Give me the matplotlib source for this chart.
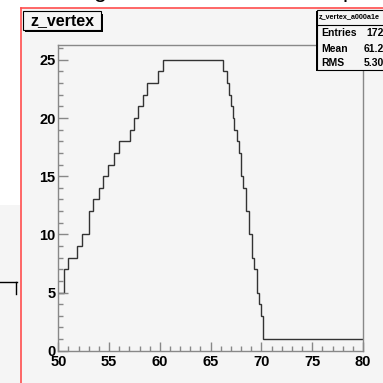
import matplotlib
matplotlib.use("Agg")
import matplotlib.pyplot as plt
from matplotlib.patches import Rectangle
from matplotlib.lines import Line2D
from matplotlib.ticker import MultipleLocator

# histogram steps (edges in cm, counts per step)
edges = [50.0, 50.61, 50.99, 51.87, 52.31, 53.0, 53.39, 54.0, 54.45, 54.93,
         55.52, 55.95, 57.06, 57.49, 57.88, 58.37, 58.74, 59.79, 60.29, 66.26,
         66.65, 66.82, 67.01, 67.18, 67.34, 67.64, 67.80, 67.97, 68.23, 68.46,
         68.82, 69.05, 69.31, 69.55, 69.77, 69.97, 70.2, 80.0]
counts = [5, 7, 8, 9, 10, 12, 13, 14, 15, 16, 17, 18, 19, 20, 21, 22, 23, 24, 25,
          24, 23, 22, 21, 20, 19, 18, 17, 15, 14, 12, 10, 8, 7, 5, 4, 3, 1]

title = "z_vertex"
stats_name = "z_vertex_a000a1e"
stats_rows = ["Entries", "Mean", "RMS"]
stats_vals = ["172", "61.2", "5.30"]

W = H = 383.0
def fx(px):
    return px / W
def fy(py):
    return 1 - py / H

plt.rcParams['font.family'] = ['Liberation Sans', 'DejaVu Sans']
fig = plt.figure(figsize=(3.83, 3.83), dpi=100)
fig.patch.set_facecolor('white')

bg = '#f5f5f5'
# canvas area
fig.patches.append(Rectangle((fx(20.5), 0), 1 - fx(20.5), fy(8.3), transform=fig.transFigure,
                             facecolor=bg, edgecolor='none', zorder=-2))
fig.patches.append(Rectangle((0, 0), fx(20.5), fy(205), transform=fig.transFigure,
                             facecolor=bg, edgecolor='none', zorder=-2))
fig.lines.append(Line2D([fx(20.5), fx(20.5)], [0, fy(8.3)], transform=fig.transFigure,
                        color='#ff4d4d', lw=1.2, zorder=-1))
fig.lines.append(Line2D([fx(20.5), 1], [fy(8.3), fy(8.3)], transform=fig.transFigure,
                        color='#ff4d4d', lw=1.2, zorder=-1))
# bits of the page around the canvas
fig.lines.append(Line2D([0, fx(16.5)], [fy(282), fy(282)], transform=fig.transFigure,
                        color='black', lw=1))
fig.lines.append(Line2D([fx(16), fx(16)], [fy(282), fy(294)], transform=fig.transFigure,
                        color='black', lw=1))
fig.text(fx(40), fy(-3.5), "Histogram  of  the  z  vertex  position  for  the  run", fontsize=17,
         va='baseline', ha='left', color='black', zorder=-1)

ax = fig.add_axes([fx(58.3), fy(350.7), fx(363) - fx(58.3), fy(45.3) - fy(350.7)])
ax.set_zorder(1)
ax.set_facecolor(bg)
ax.stairs(counts, edges, baseline=None, color='#333333', lw=1.0)
ax.set_xlim(50, 80)
ax.set_ylim(0, 26.25)

for s in ax.spines.values():
    s.set_color('#888888')
    s.set_linewidth(1)
ax.xaxis.set_major_locator(MultipleLocator(5))
ax.xaxis.set_minor_locator(MultipleLocator(1))
ax.yaxis.set_major_locator(MultipleLocator(5))
ax.yaxis.set_minor_locator(MultipleLocator(1))
ax.tick_params(axis='x', which='major', direction='in', length=6.8, width=1, color='#888888', pad=3)
ax.tick_params(axis='x', which='minor', direction='in', length=3.4, width=1, color='#888888')
ax.tick_params(axis='y', which='major', direction='in', length=7.2, width=1, color='#888888', pad=2)
ax.tick_params(axis='y', which='minor', direction='in', length=3.6, width=1, color='#888888')
for lab in ax.get_xticklabels() + ax.get_yticklabels():
    lab.set_fontweight('bold')
    lab.set_fontsize(10.5)

# title box with shadow
fig.patches.append(Rectangle((fx(24.5), fy(31.5)), fx(102) - fx(24), fy(12) - fy(30),
                             transform=fig.transFigure, facecolor='black', edgecolor='none', zorder=5))
fig.patches.append(Rectangle((fx(23), fy(30)), fx(101) - fx(23), fy(11) - fy(30),
                             transform=fig.transFigure, facecolor=bg, edgecolor='black', lw=0.8, zorder=6))
fig.text(fx(62), fy(20.5), title, fontsize=11.5, fontweight='bold', ha='center', va='center', zorder=7)

# stats box
fig.patches.append(Rectangle((fx(315.5), fy(71)), 1, fy(11) - fy(71),
                             transform=fig.transFigure, facecolor='black', edgecolor='none', zorder=5))
fig.patches.append(Rectangle((fx(317), fy(69.5)), 1, fy(10) - fy(69.5),
                             transform=fig.transFigure, facecolor=bg, edgecolor='black', lw=0.8, zorder=6))
fig.lines.append(Line2D([fx(317), 1], [fy(24.5), fy(24.5)], transform=fig.transFigure,
                        color='black', lw=0.8, zorder=7))
fig.text(fx(319), fy(17), stats_name, fontsize=5.2, fontweight='bold', ha='left', va='center', zorder=7)
for i, (r, v) in enumerate(zip(stats_rows, stats_vals)):
    y = 33.5 + 15 * i
    fig.text(fx(321), fy(y), r, fontsize=7.5, fontweight='bold', ha='left', va='center', zorder=7)
    fig.text(fx(366 if len(v) == 3 else 364), fy(y), v, fontsize=7.5, fontweight='bold',
             ha='left', va='center', zorder=7)

fig.savefig('out.png', dpi=100, facecolor=fig.get_facecolor())
